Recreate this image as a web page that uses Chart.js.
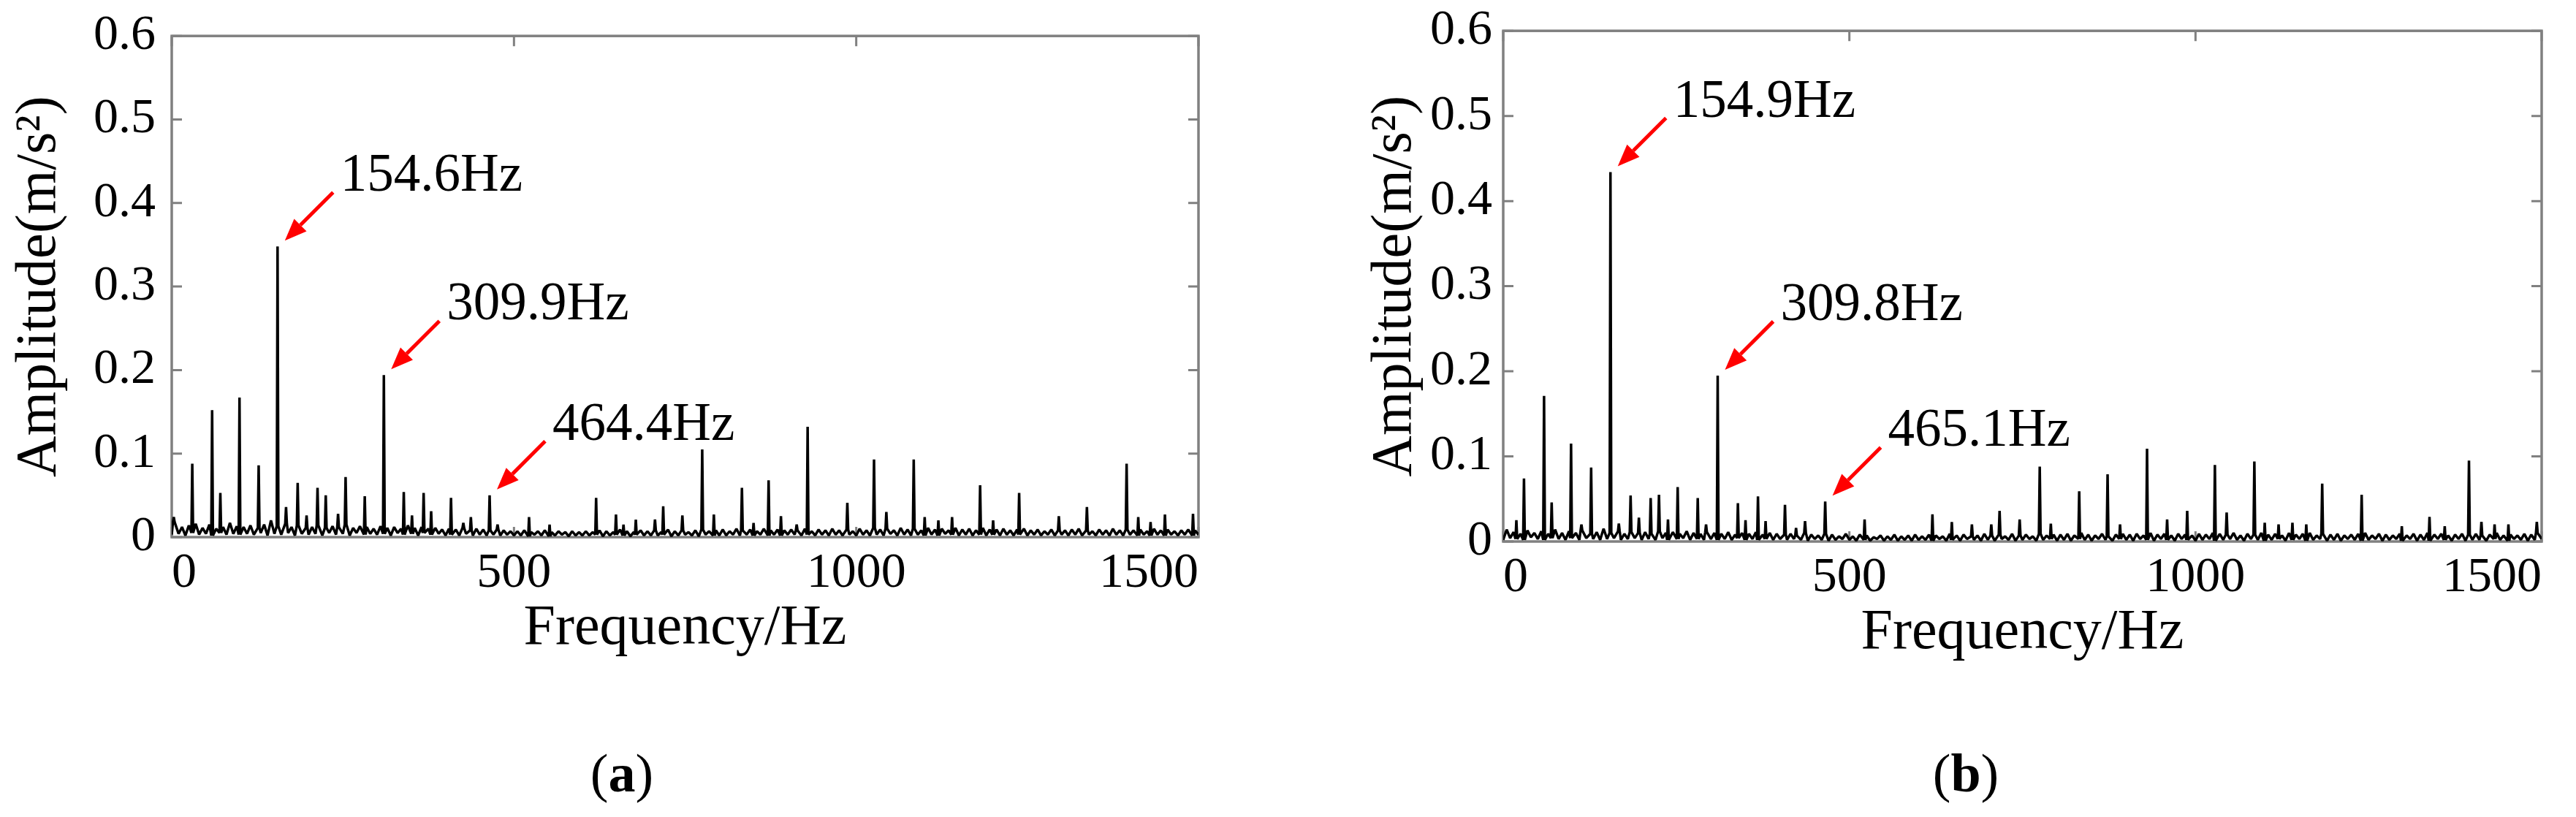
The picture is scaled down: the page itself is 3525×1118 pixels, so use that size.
<!DOCTYPE html>
<html>
<head>
<meta charset="utf-8">
<script src="https://cdn.jsdelivr.net/npm/chart.js@4.4.1/dist/chart.umd.min.js"></script>
<style>
  html, body { margin: 0; padding: 0; background: #fff; overflow: hidden; }
  #wrap { position: relative; width: 3525px; height: 1118px; }
  canvas { position: absolute; top: 0; }
  #chartA { left: 0; }
  #chartB { left: 1760px; }
  .cap { position: absolute; top: 1021px; font-family: "Liberation Serif"; font-size: 74px; line-height: 1; transform: translateX(-50%); }
</style>
</head>
<body>
<div id="wrap">
  <canvas id="chartA" width="1760" height="1118"></canvas>
  <canvas id="chartB" width="1765" height="1118"></canvas>
  <div class="cap" style="left:851px">(<b>a</b>)</div>
  <div class="cap" style="left:2690px">(<b>b</b>)</div>
</div>
<script>
// axis ticks
const xTicks = [0, 500, 1000, 1500];
const xTickLabels = ["0", "500", "1000", "1500"];
const yTicks = [0, 0.1, 0.2, 0.3, 0.4, 0.5, 0.6];
const yTickLabels = ["0", "0.1", "0.2", "0.3", "0.4", "0.5", "0.6"];

// noise floor, read every 5 Hz from 0 to 1500 Hz, in 1e-3 m/s^2
const NOISE_STEP = 5;
const noiseA = [
  3,18,4,12,2,14,5,16,3,11,4,15,2,10,5,12,3,17,4,13,3,
  12,4,14,3,11,5,15,2,20,4,13,3,16,5,12,2,14,4,11,3,
  12,4,14,2,11,5,13,3,12,4,15,2,11,5,13,3,12,4,10,3,
  13,4,11,2,12,5,10,3,14,4,11,2,12,5,10,3,11,4,9,2,
  10,3,9,2,11,4,8,2,10,3,9,2,8,3,9,2,8,3,7,2,
  7,2,8,1,6,3,7,2,8,1,6,2,7,3,6,1,7,2,6,2,
  7,2,6,3,8,1,7,2,6,3,9,2,7,1,6,3,8,2,7,2,
  8,2,6,3,9,1,7,2,8,3,6,2,8,1,9,3,7,2,8,2,
  9,2,7,3,10,2,8,3,9,2,7,3,10,2,8,3,9,2,8,3,
  9,3,8,2,10,3,7,2,9,3,8,2,10,3,8,2,9,3,7,2,
  10,3,8,2,11,3,9,2,10,4,8,2,11,3,9,2,10,3,8,2,
  11,3,9,2,10,4,8,3,11,2,9,3,10,2,8,3,11,2,9,3,
  9,2,10,3,8,2,9,3,10,2,8,3,9,2,7,3,9,2,8,3,
  8,2,9,3,10,2,8,3,7,2,9,3,8,2,10,3,8,2,9,3,
  8,2,9,3,7,2,10,3,8,2,9,3,7,2,8,3,9,2,8,3
];
const noiseB = [
  2,14,4,11,3,9,2,13,5,10,3,12,2,9,4,14,3,10,2,12,4,
  10,2,13,4,9,3,11,2,15,3,10,4,12,2,9,3,11,4,10,2,
  11,3,9,2,12,4,10,2,11,3,9,4,12,2,10,3,9,2,11,3,
  10,2,9,3,11,2,8,4,10,2,9,3,11,2,8,3,10,2,9,3,
  8,2,9,3,7,2,10,1,8,3,7,2,9,1,8,2,6,3,9,2,
  6,1,8,2,7,1,5,3,7,1,6,2,8,1,6,2,7,1,8,2,
  6,2,8,1,7,3,6,1,9,2,7,1,8,3,6,2,7,1,9,2,
  7,1,8,3,6,2,9,1,7,2,8,3,6,1,9,2,7,3,8,1,
  8,2,9,1,7,3,10,2,8,1,7,3,9,2,6,1,8,3,9,2,
  8,1,9,3,7,2,10,1,8,3,9,2,7,1,9,3,8,2,7,1,
  9,2,8,3,10,1,9,2,8,3,10,2,7,1,9,3,8,2,10,1,
  8,2,9,3,7,1,10,2,8,3,9,1,10,2,7,3,9,1,8,2,
  9,1,7,3,8,2,9,1,10,2,7,3,9,1,8,2,7,3,9,1,
  7,3,9,1,8,2,10,1,8,3,9,2,7,1,8,3,9,1,8,2,
  9,2,7,1,8,3,10,2,7,1,8,3,7,2,9,1,8,2,10,3
];

// spectral lines (Hz, m/s^2)
const peakFreqA = [3, 30, 59, 71, 99, 127, 154.6, 167, 184, 197, 213, 225, 243, 254, 282, 309.9, 339, 351, 368, 379,
  408, 426, 437, 464.4, 476, 522, 552, 620, 649, 660, 678, 706, 718, 746, 775, 792, 833, 850, 872, 890,
  913, 929, 987, 1026, 1044, 1084, 1100, 1120, 1140, 1181, 1200, 1238, 1296, 1337, 1395, 1412, 1430, 1451, 1492];
const peakAmpA = [0.024, 0.088, 0.152, 0.053, 0.167, 0.086, 0.348, 0.036, 0.065, 0.026, 0.059, 0.050, 0.028, 0.072, 0.049, 0.194, 0.054, 0.026, 0.053, 0.031,
  0.047, 0.017, 0.024, 0.050, 0.015, 0.024, 0.015, 0.047, 0.027, 0.015, 0.021, 0.021, 0.037, 0.026, 0.105, 0.027, 0.059, 0.017, 0.068, 0.025,
  0.015, 0.132, 0.041, 0.093, 0.030, 0.093, 0.024, 0.020, 0.024, 0.062, 0.020, 0.053, 0.025, 0.036, 0.088, 0.024, 0.018, 0.027, 0.028];

const peakFreqB = [19, 30, 59, 70, 98, 113, 127, 154.9, 167, 184, 196, 213, 225, 238, 252, 281, 293, 309.8, 339, 350,
  368, 379, 407, 423, 436, 465.1, 522, 620, 648, 677, 705, 717, 746, 775, 791, 832, 873, 891, 930, 959,
  988, 1028, 1045, 1085, 1100, 1120, 1140, 1160, 1183, 1240, 1298, 1338, 1360, 1395, 1413, 1432, 1452, 1493];
const peakAmpB = [0.025, 0.074, 0.171, 0.046, 0.115, 0.020, 0.087, 0.434, 0.021, 0.054, 0.028, 0.051, 0.055, 0.026, 0.064, 0.051, 0.020, 0.195, 0.045, 0.025,
  0.053, 0.024, 0.043, 0.016, 0.024, 0.047, 0.026, 0.032, 0.023, 0.020, 0.020, 0.036, 0.026, 0.088, 0.021, 0.059, 0.079, 0.020, 0.109, 0.026,
  0.036, 0.090, 0.034, 0.094, 0.022, 0.020, 0.022, 0.020, 0.068, 0.055, 0.018, 0.029, 0.018, 0.095, 0.023, 0.020, 0.020, 0.023];

// annotated harmonics
const annoFreqA = [154.6, 309.9, 464.4];
const annoAmpA = [0.348, 0.194, 0.050];
const annoTextA = ["154.6Hz", "309.9Hz", "464.4Hz"];
const annoFreqB = [154.9, 309.8, 465.1];
const annoAmpB = [0.434, 0.195, 0.047];
const annoTextB = ["154.9Hz", "309.8Hz", "465.1Hz"];

const SERIF = "Liberation Serif";

function buildSeries(noise, freqs, amps) {
  const pts = [];
  noise.forEach((v, i) => {
    const f = i * NOISE_STEP;
    if (!freqs.some(p => Math.abs(p - f) < 2.5)) pts.push({ x: f, y: v / 1000 });
  });
  freqs.forEach((f, k) => {
    const base = noise[Math.min(noise.length - 1, Math.round(f / NOISE_STEP))] / 1000;
    pts.push({ x: f - 1.2, y: base }, { x: f, y: amps[k] }, { x: f + 1.2, y: base });
  });
  pts.sort((a, b) => a.x - b.x);
  return pts;
}

// box, inward ticks, red arrows and labels
const framePlugin = {
  id: "frame",
  beforeDatasetsDraw(chart) {
    const { ctx, chartArea: a, scales: { x, y } } = chart;
    ctx.save();
    ctx.strokeStyle = "#808080";
    ctx.lineWidth = 3.5;
    ctx.strokeRect(a.left, a.top, a.right - a.left, a.bottom - a.top);
    ctx.lineWidth = 3;
    const tl = 14;
    ctx.beginPath();
    yTicks.forEach(v => {
      const py = y.getPixelForValue(v);
      ctx.moveTo(a.left, py); ctx.lineTo(a.left + tl, py);
      ctx.moveTo(a.right, py); ctx.lineTo(a.right - tl, py);
    });
    xTicks.forEach(v => {
      const px = x.getPixelForValue(v);
      ctx.moveTo(px, a.top); ctx.lineTo(px, a.top + tl);
      ctx.moveTo(px, a.bottom); ctx.lineTo(px, a.bottom - tl);
    });
    ctx.stroke();
    ctx.restore();
  },
  afterDatasetsDraw(chart, args, opts) {
    const { ctx, scales: { x, y } } = chart;
    ctx.save();
    opts.freq.forEach((f, i) => {
      const tipX = x.getPixelForValue(f) + 10;
      const tipY = y.getPixelForValue(opts.amp[i]) - 8;
      const tailX = tipX + 66, tailY = tipY - 66;
      const ang = Math.atan2(tipY - tailY, tipX - tailX);
      const headLen = 30, headW = 12;
      const bx = tipX - headLen * Math.cos(ang), by = tipY - headLen * Math.sin(ang);
      ctx.strokeStyle = "#ff0000";
      ctx.fillStyle = "#ff0000";
      ctx.lineWidth = 5;
      ctx.beginPath();
      ctx.moveTo(tailX, tailY);
      ctx.lineTo(bx, by);
      ctx.stroke();
      ctx.beginPath();
      ctx.moveTo(tipX, tipY);
      ctx.lineTo(bx + headW * Math.sin(ang), by - headW * Math.cos(ang));
      ctx.lineTo(bx - headW * Math.sin(ang), by + headW * Math.cos(ang));
      ctx.closePath();
      ctx.fill();
      ctx.fillStyle = "#000";
      ctx.font = '73px "' + SERIF + '"';
      ctx.textBaseline = "alphabetic";
      ctx.textAlign = "left";
      ctx.fillText(opts.text[i], tipX + 76, tipY - 68);
    });
    ctx.restore();
  }
};

function makeChart(id, noise, freqs, amps, anno, lay) {
  new Chart(document.getElementById(id), {
    type: "line",
    data: {
      datasets: [{
        data: buildSeries(noise, freqs, amps),
        borderColor: "#000",
        borderWidth: 3.5,
        borderJoinStyle: "bevel",
        pointRadius: 0,
        tension: 0,
        fill: false
      }]
    },
    plugins: [framePlugin],
    options: {
      responsive: false,
      animation: false,
      events: [],
      layout: { padding: lay.padding },
      plugins: {
        legend: { display: false },
        tooltip: { enabled: false },
        frame: anno
      },
      scales: {
        x: {
          type: "linear",
          min: 0,
          max: 1500,
          afterBuildTicks: s => { s.ticks = xTicks.map(v => ({ value: v })); },
          afterFit: s => { s.height = 182; },
          grid: { display: false, drawTicks: false },
          border: { display: false },
          ticks: {
            align: "inner",
            padding: 23,
            color: "#000",
            maxRotation: 0,
            autoSkip: false,
            font: { family: SERIF, size: 68, lineHeight: 0.8 },
            callback: v => xTickLabels[xTicks.indexOf(v)]
          },
          title: {
            display: true,
            text: "Frequency/Hz",
            color: "#000",
            font: { family: SERIF, size: 78, lineHeight: 1.2 },
            padding: { top: 0, bottom: 10 }
          }
        },
        y: {
          min: 0,
          max: 0.6,
          afterBuildTicks: s => { s.ticks = yTicks.map(v => ({ value: v })); },
          afterFit: s => { s.width = lay.yWidth; },
          grid: { display: false, drawTicks: false },
          border: { display: false },
          ticks: {
            padding: lay.tickPad,
            color: "#000",
            font: { family: SERIF, size: 68, lineHeight: 0.8 },
            callback: v => yTickLabels[yTicks.indexOf(v)]
          },
          title: {
            display: true,
            text: "Amplitude(m/s²)",
            color: "#000",
            font: { family: SERIF, size: 78, lineHeight: 1.2 },
            padding: { top: 8, bottom: 0 }
          }
        }
      }
    }
  });
}

makeChart("chartA", noiseA, peakFreqA, peakAmpA,
  { freq: annoFreqA, amp: annoAmpA, text: annoTextA },
  { padding: { left: 0, right: 120, top: 33, bottom: 201 }, yWidth: 235, tickPad: 22 });

makeChart("chartB", noiseB, peakFreqB, peakAmpB,
  { freq: annoFreqB, amp: annoAmpB, text: annoTextB },
  { padding: { left: 95, right: 47, top: 34, bottom: 195 }, yWidth: 202, tickPad: 15 });
</script>
</body>
</html>
